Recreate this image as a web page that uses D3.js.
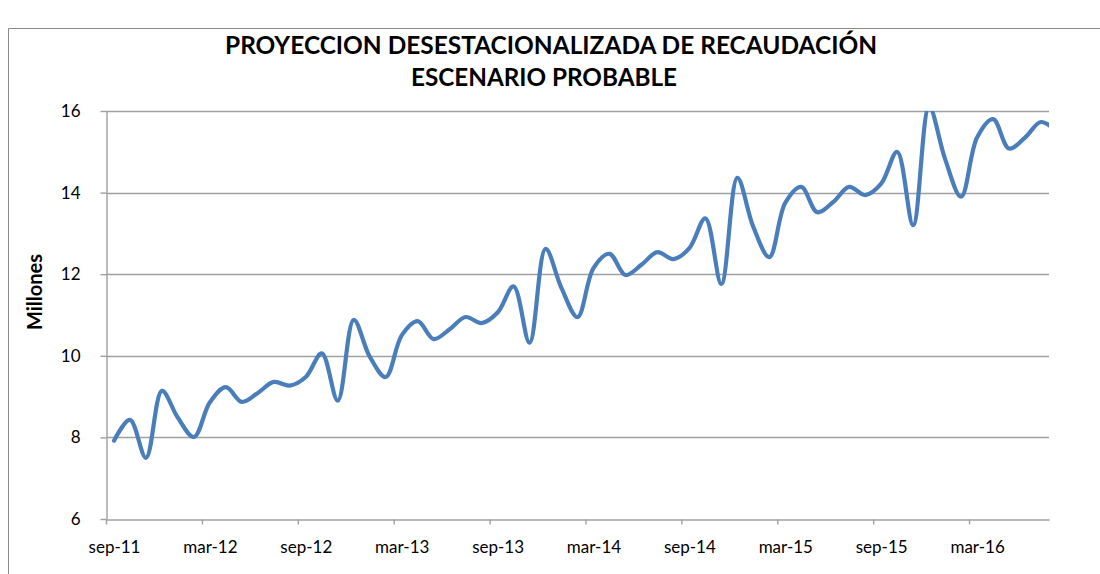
<!DOCTYPE html>
<html>
<head>
<meta charset="utf-8">
<script src="https://cdn.jsdelivr.net/npm/d3@7"></script>
<style>
  html, body { margin: 0; padding: 0; background: #fff; }
  svg { display: block; }
</style>
</head>
<body>
<svg id="chart" width="1100" height="574"></svg>
<script>
// Monthly categories, sep-11 .. aug-16
const months = [
  "sep-11","oct-11","nov-11","dic-11","ene-12","feb-12","mar-12","abr-12","may-12","jun-12","jul-12","ago-12",
  "sep-12","oct-12","nov-12","dic-12","ene-13","feb-13","mar-13","abr-13","may-13","jun-13","jul-13","ago-13",
  "sep-13","oct-13","nov-13","dic-13","ene-14","feb-14","mar-14","abr-14","may-14","jun-14","jul-14","ago-14",
  "sep-14","oct-14","nov-14","dic-14","ene-15","feb-15","mar-15","abr-15","may-15","jun-15","jul-15","ago-15",
  "sep-15","oct-15","nov-15","dic-15","ene-16","feb-16","mar-16","abr-16","may-16","jun-16","jul-16","ago-16"
];

// Deseasonalized revenue projection (millions)
const recaudacion = [
  7.92, 8.43, 7.50, 9.14, 8.48, 8.01, 8.86, 9.23, 8.87, 9.09, 9.36, 9.27,
  9.48, 10.06, 8.90, 10.88, 9.98, 9.48, 10.50, 10.85, 10.41, 10.65, 10.95, 10.80,
  11.06, 11.70, 10.32, 12.62, 11.66, 10.95, 12.15, 12.50, 11.98, 12.23, 12.54, 12.37,
  12.64, 13.37, 11.76, 14.36, 13.16, 12.42, 13.75, 14.14, 13.52, 13.77, 14.14, 13.94,
  14.22, 15.00, 13.20, 16.10, 14.82, 13.90, 15.35, 15.80, 15.08, 15.35, 15.73, 15.50
];

// Axis labels
const xTickLabels = ["sep-11","mar-12","sep-12","mar-13","sep-13","mar-14","sep-14","mar-15","sep-15","mar-16"];
const yTicks = [6, 8, 10, 12, 14, 16];
const titleLines = ["PROYECCION DESESTACIONALIZADA DE RECAUDACIÓN", "ESCENARIO PROBABLE"];
const yTitle = "Millones";

const svg = d3.select("#chart");
const W = 1100, H = 574;
const plot = { left: 106, right: 1049, top: 111, bottom: 519 };
const FONT = "Lato, 'Open Sans', sans-serif";
const GRID = "#a0a0a0";

// Outer chart frame
svg.append("path")
  .attr("d", `M8.5,${H} V28.5 H${W}`)
  .attr("fill", "none")
  .attr("stroke", "#8a8a8a")
  .attr("stroke-width", 1);

// Scales: one slot per month, the visible axis covers 59 slots
const x = d3.scaleLinear().domain([-0.5, 58.5]).range([plot.left, plot.right]);
const y = d3.scaleLinear().domain([6, 16]).range([plot.bottom, plot.top]);
const half = (x(1) - x(0)) / 2;

// Title
const titleX = 551;
svg.append("text").attr("x", titleX).attr("y", 54)
  .attr("text-anchor", "middle")
  .attr("font-family", FONT).attr("font-weight", "bold").attr("font-size", 24)
  .attr("textLength", 652).attr("lengthAdjust", "spacingAndGlyphs")
  .attr("fill", "#000")
  .text(titleLines[0]);
svg.append("text").attr("x", 544).attr("y", 86)
  .attr("text-anchor", "middle")
  .attr("font-family", FONT).attr("font-weight", "bold").attr("font-size", 24)
  .attr("textLength", 266).attr("lengthAdjust", "spacingAndGlyphs")
  .attr("fill", "#000")
  .text(titleLines[1]);

// Horizontal gridlines
svg.append("g").selectAll("line")
  .data(yTicks.filter(d => d > 6))
  .join("line")
  .attr("x1", plot.left).attr("x2", plot.right)
  .attr("y1", d => Math.round(y(d)) + 0.5).attr("y2", d => Math.round(y(d)) + 0.5)
  .attr("stroke", GRID).attr("stroke-width", 1.4);

// Y axis
const yAxis = svg.append("g")
  .attr("transform", `translate(${plot.left + 0.5},0)`)
  .call(d3.axisLeft(y).tickValues(yTicks).tickSize(6).tickPadding(20).tickSizeOuter(0));
yAxis.select(".domain").attr("stroke", GRID).attr("stroke-width", 1.4);
yAxis.selectAll(".tick line").attr("stroke", GRID).attr("stroke-width", 1.4);
yAxis.selectAll(".tick text")
  .attr("font-family", FONT).attr("font-size", 17).attr("fill", "#000");

// X axis: ticks sit between months, labels centred on the month
const tickPos = xTickLabels.map((_, i) => i * 6 - 0.5);
const xAxis = svg.append("g")
  .attr("transform", `translate(0,${plot.bottom + 0.5})`)
  .call(d3.axisBottom(x).tickValues(tickPos).tickFormat((d, i) => xTickLabels[i])
    .tickSize(5).tickPadding(16).tickSizeOuter(0));
xAxis.select(".domain").attr("stroke", GRID).attr("stroke-width", 1.4);
xAxis.selectAll(".tick line").attr("stroke", GRID).attr("stroke-width", 1.4);
xAxis.selectAll(".tick text")
  .attr("x", half)
  .attr("font-family", FONT).attr("font-size", 17).attr("fill", "#000");

// Y axis title
svg.append("text")
  .attr("transform", "translate(42,292) rotate(-90)")
  .attr("text-anchor", "middle")
  .attr("font-family", FONT).attr("font-weight", "bold").attr("font-size", 20)
  .attr("fill", "#000")
  .text(yTitle);

// Clip the series to the plot area
svg.append("defs").append("clipPath").attr("id", "plotClip")
  .append("rect")
  .attr("x", plot.left).attr("y", plot.top)
  .attr("width", plot.right - plot.left).attr("height", plot.bottom - plot.top);

const line = d3.line()
  .x((d, i) => x(i))
  .y(d => y(d))
  .curve(d3.curveCatmullRom.alpha(0.5));

svg.append("path")
  .datum(recaudacion)
  .attr("clip-path", "url(#plotClip)")
  .attr("d", line)
  .attr("fill", "none")
  .attr("stroke", "#4a7ebb")
  .attr("stroke-width", 4.2)
  .attr("stroke-linejoin", "round")
  .attr("stroke-linecap", "round");
</script>
</body>
</html>
